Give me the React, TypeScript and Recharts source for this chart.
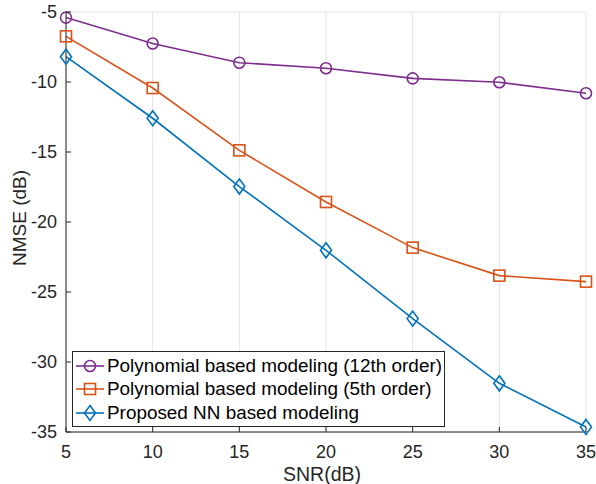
import React from 'react';
import { LineChart, Line, XAxis, YAxis, CartesianGrid, Legend } from 'recharts';

const snr = [5, 10, 15, 20, 25, 30, 35];
const poly12 = [-5.4, -7.25, -8.62, -9.02, -9.74, -10.02, -10.8];
const poly5 = [-6.74, -10.43, -14.88, -18.57, -21.83, -23.83, -24.26];
const nnModel = [-8.19, -12.59, -17.47, -22.02, -26.9, -31.52, -34.64];
const xTicks = [5, 10, 15, 20, 25, 30, 35];
const yTicks = [-35, -30, -25, -20, -15, -10, -5];

const seriesNames = {
  poly12: 'Polynomial based modeling (12th order)',
  poly5: 'Polynomial based modeling (5th order)',
  nn: 'Proposed NN based modeling',
};

const data = snr.map((s, i) => ({ snr: s, poly12: poly12[i], poly5: poly5[i], nn: nnModel[i] }));

const C_PURPLE = '#7E2F8E';
const C_ORANGE = '#D95319';
const C_BLUE = '#0072BD';
const AX = '#262626';
const FONT = '"Liberation Sans", Arial, Helvetica, sans-serif';
const TICK_FS = 18;
const TL = 5;

const markerFor = (key: string, cx: number, cy: number, color: string) => {
  if (key === 'poly12') return <circle cx={cx} cy={cy} r={5.5} fill="none" stroke={color} strokeWidth={1.6} />;
  if (key === 'poly5') return <rect x={cx - 5.5} y={cy - 5.5} width={11} height={11} fill="none" stroke={color} strokeWidth={1.6} />;
  return <polygon points={`${cx},${cy - 7.5} ${cx + 5.5},${cy} ${cx},${cy + 7.5} ${cx - 5.5},${cy}`} fill="none" stroke={color} strokeWidth={1.6} />;
};

const makeDot = (key: string, color: string) => (props: any) => {
  const { cx, cy, index } = props;
  if (cx == null || cy == null) return <g key={`${key}-${index}`} />;
  return <g key={`${key}-${index}`}>{markerFor(key, cx, cy, color)}</g>;
};

const LeftTick = (props: any) => {
  const { x, y, payload, tickMargin } = props;
  const ax = x + (tickMargin ?? 9);
  return (
    <g>
      <line x1={ax} y1={y} x2={ax + TL} y2={y} stroke={AX} strokeWidth={1} />
      <text x={x} y={y} dy="0.35em" textAnchor="end" fontSize={TICK_FS} fill={AX} fontFamily={FONT}>{payload.value}</text>
    </g>
  );
};

const RightTick = (props: any) => {
  const { x, y } = props;
  return <line x1={x} y1={y} x2={x - TL} y2={y} stroke={AX} strokeWidth={1} />;
};

const BottomTick = (props: any) => {
  const { x, y, payload } = props;
  const ay = y - 13;
  return (
    <g>
      <line x1={x} y1={ay} x2={x} y2={ay - TL} stroke={AX} strokeWidth={1} />
      <text x={x} y={y} dy="0.71em" textAnchor="middle" fontSize={TICK_FS} fill={AX} fontFamily={FONT}>{payload.value}</text>
    </g>
  );
};

const TopTick = (props: any) => {
  const { x, y } = props;
  return <line x1={x} y1={y} x2={x} y2={y + TL} stroke={AX} strokeWidth={1} />;
};

const YLabel = (props: any) => {
  const vb = props.viewBox;
  const cx = 19;
  const cy = vb.y + vb.height / 2 - 4;
  return (
    <text x={cx} y={cy} transform={`rotate(-90 ${cx} ${cy})`} textAnchor="middle" dominantBaseline="central" fontSize={19} fill={AX} fontFamily={FONT}>NMSE (dB)</text>
  );
};

const XLabel = (props: any) => {
  const vb = props.viewBox;
  return (
    <text x={vb.x + vb.width / 2 - 4} y={481} textAnchor="middle" fontSize={19.5} fill={AX} fontFamily={FONT}>SNR(dB)</text>
  );
};

const legendOrder = [
  { key: 'poly12', color: C_PURPLE },
  { key: 'poly5', color: C_ORANGE },
  { key: 'nn', color: C_BLUE },
];

const LegendContent = () => (
  <div style={{ width: 371, height: 72, border: `1px solid ${AX}`, background: '#fff', boxSizing: 'content-box', paddingTop: 2 }}>
    {legendOrder.map((s) => (
      <div key={s.key} style={{ display: 'flex', alignItems: 'center', height: 23.5 }}>
        <svg width={34} height={20} style={{ display: 'block' }}>
          <line x1={3} y1={10} x2={31} y2={10} stroke={s.color} strokeWidth={1.6} />
          {markerFor(s.key, 17, 10, s.color)}
        </svg>
        <span style={{ fontSize: 18.9, fontFamily: FONT, color: '#000', whiteSpace: 'nowrap', lineHeight: '20px' }}>
          {(seriesNames as any)[s.key]}
        </span>
      </div>
    ))}
  </div>
);

export default function App() {
  return (
    <div style={{ position: 'absolute', left: 0, top: 0, width: 596, height: 484, background: '#fff' }}>
      <LineChart width={596} height={484} data={data} margin={{ top: 12, right: 10, bottom: 22, left: 10 }}>
        <CartesianGrid stroke="#e3e3e3" strokeWidth={1} />
        <XAxis
          xAxisId="b"
          dataKey="snr"
          type="number"
          domain={[5, 35]}
          ticks={xTicks}
          height={30}
          tickSize={0}
          tickMargin={13}
          tickLine={false}
          axisLine={{ stroke: AX }}
          tick={<BottomTick />}
          interval={0}
          label={<XLabel />}
        />
        <XAxis
          xAxisId="t"
          orientation="top"
          dataKey="snr"
          type="number"
          domain={[5, 35]}
          ticks={xTicks}
          height={0}
          tickSize={0}
          tickMargin={0}
          tickLine={false}
          axisLine={{ stroke: AX }}
          tick={<TopTick />}
          interval={0}
        />
        <YAxis
          yAxisId="l"
          type="number"
          domain={[-35, -5]}
          ticks={yTicks}
          width={56}
          tickSize={0}
          tickMargin={9}
          tickLine={false}
          axisLine={{ stroke: AX }}
          tick={<LeftTick />}
          interval={0}
          label={<YLabel />}
        />
        <YAxis
          yAxisId="r"
          orientation="right"
          type="number"
          domain={[-35, -5]}
          ticks={yTicks}
          width={0}
          tickSize={0}
          tickMargin={0}
          tickLine={false}
          axisLine={{ stroke: AX }}
          tick={<RightTick />}
          interval={0}
        />
        <Line xAxisId="b" yAxisId="l" dataKey="poly12" name={seriesNames.poly12} stroke={C_PURPLE} strokeWidth={1.6} dot={makeDot('poly12', C_PURPLE)} isAnimationActive={false} />
        <Line xAxisId="b" yAxisId="l" dataKey="poly5" name={seriesNames.poly5} stroke={C_ORANGE} strokeWidth={1.6} dot={makeDot('poly5', C_ORANGE)} isAnimationActive={false} />
        <Line xAxisId="b" yAxisId="l" dataKey="nn" name={seriesNames.nn} stroke={C_BLUE} strokeWidth={1.6} dot={makeDot('nn', C_BLUE)} isAnimationActive={false} />
        <Legend layout="horizontal" verticalAlign="middle" align="center" content={<LegendContent />} wrapperStyle={{ position: 'absolute', left: 72, top: 351, width: 'auto', bottom: 'auto' }} />
      </LineChart>
    </div>
  );
}
